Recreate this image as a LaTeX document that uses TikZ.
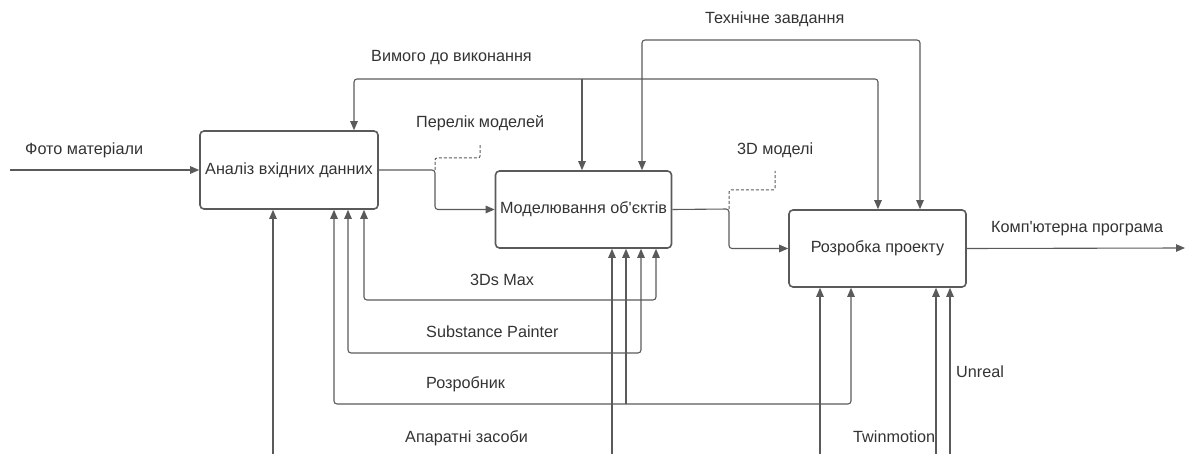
\documentclass[tikz,border=0pt]{standalone}
\usepackage{fontspec}
\setmainfont{Liberation Sans}
\usetikzlibrary{arrows.meta}
\definecolor{ln}{HTML}{5A5A5A}
\definecolor{tx}{HTML}{333333}
\begin{document}
\begin{tikzpicture}[x=1pt,y=-1pt,
  box/.style={draw=ln,line width=1.6pt,rounded corners=4pt,minimum width=#1,inner sep=0pt,font=\fontsize{16.2}{19}\selectfont,text=tx},
  box/.default=177pt,
  conn/.style={draw=ln,line width=1.1pt,rounded corners=3pt},
  arr/.style={conn,-{Triangle[length=9pt,width=7.5pt]}},
  barr/.style={conn,{Triangle[length=9pt,width=7.5pt]}-{Triangle[length=9pt,width=7.5pt]}},
  dsh/.style={draw=ln,line width=1pt,dash pattern=on 3pt off 2pt,rounded corners=2pt},
  lbl/.style={anchor=west,inner sep=0pt,text=tx,font=\fontsize{16.2}{19}\selectfont}]
\useasboundingbox (0,0) rectangle (1189,454);
\node[box=178pt,minimum height=78pt] (A) at (289,170) {Аналіз вхідних данних};
\node[box=176pt,minimum height=77pt] (B) at (583.5,209.5) {Моделювання об\textquotesingle єктів};
\node[box=177pt,minimum height=77pt] (C) at (877.5,248.5) {Розробка проекту};
% coordinates
\coordinate (fin) at (10,170);
\coordinate (fout) at (1185,248);
\coordinate (j1) at (435,170);
\coordinate (j2) at (729,209);
\coordinate (v1) at (354,79);
\coordinate (v2) at (878,79);
\coordinate (v3) at (582,79);
\coordinate (t1) at (642,40);
\coordinate (t2) at (920,40);
\coordinate (m1) at (364,300);
\coordinate (m2) at (656,300);
\coordinate (s1) at (348,353);
\coordinate (s2) at (641,353);
\coordinate (r1) at (334,404);
\coordinate (r2) at (851,404);
\coordinate (r3) at (626,404);
\coordinate (h1) at (273,454);
\coordinate (h2) at (612,454);
\coordinate (h3) at (820,454);
\coordinate (tw) at (936,454);
\coordinate (un) at (950,454);
% flows
\draw[arr] (fin) -- (A.west);
\draw[arr] (A.east) -- (j1) -- (j1 |- B.west) -- (B.west);
\draw[arr] (B.east) -- (j2) -- (j2 |- C.west) -- (C.west);
\draw[arr] (C.east) -- (fout);
\draw[dsh] (j1) -- (435,158) -- (480,158) -- (480,144);
\draw[dsh] (j2) -- (729,190) -- (775,190) -- (775,171);
% controls
\draw[barr] (v1 |- A.north) -- (v1) -- (v2) -- (v2 |- C.north);
\draw[arr] (v3) -- (v3 |- B.north);
\draw[barr] (t1 |- B.north) -- (t1) -- (t2) -- (t2 |- C.north);
% mechanisms
\draw[barr] (m1 |- A.south) -- (m1) -- (m2) -- (m2 |- B.south);
\draw[barr] (s1 |- A.south) -- (s1) -- (s2) -- (s2 |- B.south);
\draw[barr] (r1 |- A.south) -- (r1) -- (r2) -- (r2 |- C.south);
\draw[arr] (r3) -- (r3 |- B.south);
\draw[arr] (h1) -- (h1 |- A.south);
\draw[arr] (h2) -- (h2 |- B.south);
\draw[arr] (h3) -- (h3 |- C.south);
\draw[arr] (tw) -- (tw |- C.south);
\draw[arr] (un) -- (un |- C.south);
% labels
\node[lbl] (lfoto) at (25,150) {Фото матеріали};
\node[lbl] (lvym) at (371,58) {Вимого до виконання};
\node[lbl] (ltech) at (705,19) {Технічне завдання};
\node[lbl] (lper) at (416,123) {Перелік моделей};
\node[lbl] (l3d) at (737,150) {3D моделі};
\node[lbl] (lkomp) at (991,229) {Комп\textquotesingle ютерна програма};
\node[lbl] (lmax) at (470,280) {3Ds Max};
\node[lbl] (lsub) at (426,332) {Substance Painter};
\node[lbl] (lroz) at (426,384) {Розробник};
\node[lbl] (lapa) at (405,438) {Апаратні засоби};
\node[lbl] (ltw) at (853,437) {Twinmotion};
\node[lbl] (lun) at (956,372) {Unreal};
\end{tikzpicture}
\end{document}
